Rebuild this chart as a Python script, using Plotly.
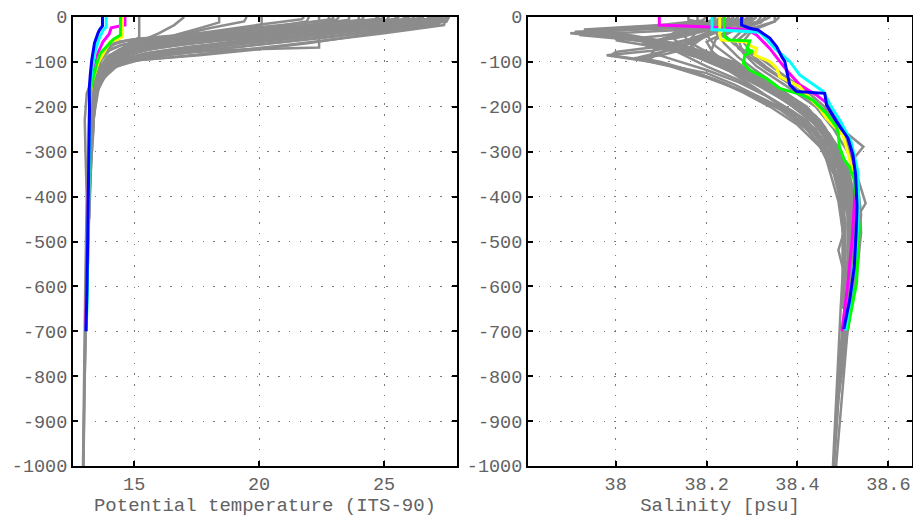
import plotly.graph_objects as go

# ---------------- DATA ----------------
y_ticks = [0, -100, -200, -300, -400, -500, -600, -700, -800, -900, -1000]
y_tick_labels = ["0", "-100", "-200", "-300", "-400", "-500", "-600", "-700", "-800", "-900", "-1000"]
temp_ticks = [15, 20, 25]
temp_tick_labels = ["15", "20", "25"]
sal_ticks = [38.0, 38.2, 38.4, 38.6]
sal_tick_labels = ["38", "38.2", "38.4", "38.6"]

# Gray profiles, potential temperature panel (depth m, temperature)
temp_gray_depth = [
    [0, -5, -15, -25, -35, -45, -55, -62, -75, -95, -130, -180, -300, -500, -700, -1000],
    [0, -8, -20, -35, -50, -65, -80, -92, -110, -140, -200, -400, -700, -1000],
    [0, -12, -25, -40, -55, -70, -85, -97, -115, -150, -220, -500, -800],
    [0, -6, -18, -30, -42, -54, -66, -80, -100, -140, -250, -600],
    [0, -10, -22, -38, -52, -66, -80, -92, -105, -125, -170, -300, -700],
    [0, -5, -12, -22, -32, -44, -55, -65, -85, -120, -200],
    [0, -4, -16, -30, -45, -60, -75, -90, -110, -150, -250, -500],
    [0, -10, -14, -28, -44, -60, -76, -90, -110, -160, -400],
    [0, -7, -18, -32, -48, -64, -78, -100, -135, -300],
    [0, -6, -12, -24, -38, -52, -66, -85, -110, -170, -400],
    [0, -5, -10, -22, -36, -50, -64, -80, -100, -140, -300],
    [0, -30, -68, -72, -78, -88, -98, -115, -150, -250, -500],
    [0, -20, -28, -40, -55, -70, -85, -105, -140, -220],
    [0, -12, -22, -35, -50, -65, -85, -110, -150, -300],
    [0, -4, -18, -36, -50, -65, -80, -100, -140, -250],
    [0, -45, -52, -62, -78, -95, -120, -160, -300],
    [0, -5, -15, -28, -42, -56, -70, -82, -100, -130, -180],
    [0, -8, -18, -30, -45, -58, -72, -86, -104, -124, -150, -200, -350],
    [0, -6, -20, -34, -48, -62, -76, -90, -115, -160, -260],
    [0, -5, -18, -30, -44, -58, -72, -90, -120, -165],
    [0, -10, -25, -40, -55, -70, -88, -115, -160, -260],
    [0, -30, -38, -48, -60, -74, -90, -115, -150, -220],
    [0, -7, -14, -24, -36, -48, -58, -70, -90, -120],
    [0, -3, -10, -20, -30, -40, -48, -54, -62, -80, -110, -160, -250],
    [0, -6, -16, -28, -40, -52, -62, -72, -85, -105],
    [0, -5, -20, -40, -60, -80, -100, -130, -170, -230, -300, -400, -600, -800, -1000],
    [0, -8, -25, -45, -65, -85, -110, -150, -200, -250, -320, -450],
    [0, -15, -30, -45, -58, -73, -85, -96, -110, -135, -180, -300],
    [0, -18, -36, -50, -62, -75, -88, -99, -122, -150, -200],
    [0, -10, -25, -40, -55, -65, -78, -90, -100, -120, -160, -260],
    [0, -14, -30, -45, -58, -70, -82, -94, -108, -130, -175],
    [0, -8, -22, -38, -52, -66, -78, -90, -104, -128, -170, -280],
    [0, -12, -28, -44, -60, -74, -88, -100, -116, -145],
    [0, -6, -20, -36, -52, -68, -84, -98, -120, -160],
    [0, -3, -10, -18, -26, -34, -42, -48, -55, -70, -95, -140],
    [0, -4, -12, -20, -28, -36, -44, -50, -58, -75, -100],
    [0, -16, -32, -48, -62, -76, -88, -98, -112, -140, -190],
    [0, -20, -35, -50, -64, -78, -90, -100, -118, -150],
    [0, -5, -14, -26, -40, -55, -70, -84, -100, -125, -170],
    [0, -10, -20, -32, -46, -60, -74, -88, -104, -130],
    [0, -8, -18, -30, -42, -54, -66, -78, -92, -115, -150],
    [0, -6, -15, -26, -38, -50, -62, -74, -88, -110],
]
temp_gray_value = [
    [27.6, 27.5, 25.0, 22.3, 19.8, 17.4, 15.4, 14.5, 14.0, 13.7, 13.45, 13.3, 13.22, 13.14, 13.05, 12.96],
    [27.4, 27.3, 25.6, 23.2, 20.6, 18.0, 15.9, 14.9, 14.2, 13.65, 13.3, 13.18, 13.04, 12.97],
    [27.1, 26.9, 25.0, 22.3, 19.6, 17.4, 15.5, 14.6, 14.0, 13.55, 13.3, 13.14, 13.02],
    [26.8, 26.7, 24.5, 22.0, 19.6, 17.3, 15.5, 14.5, 13.95, 13.5, 13.28, 13.12],
    [26.4, 26.3, 24.8, 22.0, 19.4, 17.2, 15.5, 14.6, 14.1, 13.75, 13.4, 13.24, 13.05],
    [26.0, 25.9, 24.6, 22.6, 20.6, 18.2, 16.0, 14.8, 14.0, 13.6, 13.3],
    [25.6, 25.5, 23.8, 21.5, 18.8, 16.6, 15.2, 14.4, 13.9, 13.5, 13.28, 13.15],
    [24.7, 24.7, 24.0, 21.8, 19.0, 16.6, 15.0, 14.3, 13.85, 13.45, 13.2],
    [25.2, 25.1, 23.3, 20.9, 18.2, 16.0, 14.8, 14.0, 13.55, 13.25],
    [23.6, 23.6, 22.8, 21.0, 18.6, 16.4, 15.0, 14.2, 13.8, 13.4, 13.2],
    [23.0, 22.9, 22.2, 20.6, 18.4, 16.3, 14.9, 14.2, 13.8, 13.5, 13.25],
    [22.4, 22.4, 22.4, 19.5, 17.4, 15.8, 14.9, 14.1, 13.6, 13.3, 13.16],
    [20.1, 20.1, 19.3, 18.0, 16.6, 15.4, 14.6, 13.95, 13.55, 13.3],
    [18.4, 18.4, 17.8, 17.0, 16.0, 15.2, 14.4, 13.85, 13.5, 13.25],
    [17.0, 16.9, 16.6, 16.0, 15.4, 14.8, 14.3, 13.9, 13.5, 13.28],
    [15.2, 15.2, 15.0, 14.7, 14.3, 13.9, 13.6, 13.4, 13.25],
    [27.0, 26.9, 24.8, 22.2, 19.4, 16.9, 15.2, 14.4, 13.9, 13.6, 13.35],
    [26.2, 26.1, 24.6, 22.3, 19.6, 17.4, 15.6, 14.6, 14.15, 13.8, 13.55, 13.3, 13.2],
    [24.2, 24.1, 22.0, 19.8, 17.6, 15.9, 14.9, 14.2, 13.75, 13.4, 13.25],
    [21.8, 21.7, 19.9, 18.3, 16.6, 15.2, 14.4, 13.9, 13.55, 13.33],
    [19.5, 19.4, 18.0, 16.8, 15.7, 14.9, 14.2, 13.7, 13.36, 13.22],
    [22.8, 22.7, 21.0, 19.0, 17.0, 15.4, 14.5, 13.9, 13.5, 13.3],
    [25.5, 25.4, 24.2, 22.3, 20.0, 17.6, 15.8, 14.8, 14.1, 13.7],
    [26.6, 26.5, 24.6, 22.2, 19.6, 17.2, 15.4, 14.6, 14.1, 13.75, 13.5, 13.3, 13.2],
    [23.2, 23.1, 21.2, 19.0, 17.0, 15.4, 14.5, 14.0, 13.7, 13.5],
    [26.9, 26.8, 23.6, 19.8, 16.5, 14.6, 13.9, 13.4, 13.1, 13.02, 13.05, 13.1, 13.04, 12.99, 12.95],
    [25.9, 25.8, 22.6, 19.0, 16.2, 14.6, 13.95, 13.5, 13.35, 13.37, 13.28, 13.2],
    [27.3, 27.2, 25.4, 23.6, 22.0, 19.8, 17.6, 15.2, 14.3, 13.8, 13.4, 13.22],
    [27.5, 27.4, 25.0, 23.0, 21.2, 19.0, 16.8, 14.6, 13.8, 13.45, 13.3],
    [27.6, 27.5, 25.6, 23.4, 21.0, 19.4, 17.2, 15.4, 14.5, 13.9, 13.45, 13.25],
    [27.2, 27.1, 25.0, 22.8, 20.6, 18.6, 16.6, 15.0, 14.3, 13.8, 13.4],
    [26.5, 26.4, 24.8, 22.3, 20.2, 18.0, 16.2, 15.0, 14.3, 13.8, 13.4, 13.25],
    [25.8, 25.7, 23.8, 21.6, 19.2, 17.0, 15.3, 14.4, 13.9, 13.55],
    [27.0, 26.9, 24.6, 22.0, 19.4, 17.2, 15.4, 14.4, 13.85, 13.45],
    [27.3, 27.2, 25.6, 23.6, 21.6, 19.4, 17.2, 15.4, 14.4, 13.9, 13.6, 13.4],
    [25.0, 24.9, 23.2, 21.4, 19.4, 17.6, 16.0, 14.9, 14.2, 13.8, 13.55],
    [26.0, 25.9, 23.8, 21.4, 19.0, 17.0, 15.6, 14.7, 14.1, 13.7, 13.35],
    [24.0, 23.9, 22.2, 20.3, 18.3, 16.4, 15.1, 14.4, 13.9, 13.5],
    [24.8, 24.7, 23.4, 21.6, 19.4, 17.2, 15.6, 14.6, 14.0, 13.65, 13.4],
    [22.0, 21.9, 20.8, 19.2, 17.6, 16.0, 14.9, 14.3, 13.85, 13.55],
    [27.5, 27.4, 25.2, 22.8, 20.4, 18.2, 16.2, 15.0, 14.3, 13.8, 13.45],
    [26.2, 26.1, 24.4, 22.4, 20.2, 18.0, 16.0, 14.8, 14.1, 13.7],
]

# Gray profiles, salinity panel (depth m, salinity psu)
sal_gray_depth = [
    [0, -10, -22, -33, -45, -60, -80, -100, -130, -160, -200, -250, -300, -400, -500, -600, -700, -850, -1000],
    [0, -8, -20, -36, -48, -62, -85, -110, -140, -180, -230, -300, -400, -500, -600, -700, -1000],
    [0, -12, -25, -40, -55, -70, -90, -120, -150, -200, -260, -320, -420, -550, -700, -850],
    [0, -10, -30, -45, -58, -70, -90, -115, -150, -200, -260, -330, -420, -520, -620, -700],
    [0, -15, -40, -58, -68, -80, -100, -130, -170, -220, -290, -380, -480, -600, -700],
    [0, -10, -35, -60, -75, -85, -100, -125, -150, -185, -220, -270, -330, -420, -520, -650],
    [0, -10, -40, -70, -85, -92, -110, -135, -165, -200, -250, -310, -380, -480, -600],
    [0, -15, -50, -80, -95, -122, -148, -185, -210, -260, -305, -356, -410, -480, -560, -650, -750, -850, -1000],
    [0, -5, -20, -40, -60, -85, -110, -140, -175, -215, -260, -289, -320, -380, -450, -550, -700, -1000],
    [0, -10, -25, -50, -80, -110, -150, -200, -250, -300, -350, -415, -440, -500, -600, -700],
    [0, -10, -30, -55, -90, -120, -160, -200, -240, -300, -380, -470, -519, -560, -650, -750, -900],
    [0, -8, -18, -28, -40, -55, -75, -100, -130, -165, -210, -260, -320, -400, -520, -650],
    [0, -10, -25, -45, -58, -66, -80, -105, -140, -180, -225, -280, -350, -450, -560, -680],
    [0, -6, -15, -35, -60, -90, -120, -150, -190, -240, -300, -360, -440, -540, -640],
    [0, -12, -30, -50, -75, -100, -125, -160, -200, -240, -290, -350, -430, -520, -620, -720],
    [0, -5, -15, -30, -50, -80, -110, -140, -180, -230, -290, -360, -450, -550, -650],
    [0, -10, -20, -30, -42, -55, -70, -90, -120, -150, -190, -235, -290, -360, -460, -570, -680, -800, -950],
    [0, -10, -30, -55, -80, -100, -130, -165, -200, -260, -320, -400, -480, -580, -700],
    [0, -8, -22, -40, -60, -90, -120, -160, -210, -270, -340, -420, -520, -620],
    [0, -10, -20, -30, -38, -48, -60, -75, -95, -120, -150, -190, -240, -300, -380, -480, -600],
    [0, -8, -18, -26, -34, -44, -58, -76, -98, -125, -160, -200, -250, -310, -400, -520],
    [0, -12, -28, -42, -52, -60, -72, -90, -115, -145, -185, -230, -290, -370, -470, -600],
    [0, -10, -30, -50, -65, -78, -85, -96, -115, -140, -170, -205, -250, -300, -370, -460, -580],
    [0, -12, -35, -60, -78, -90, -100, -118, -140, -168, -200, -240, -290, -350, -430, -540],
    [0, -10, -30, -55, -80, -105, -130, -160, -195, -235, -280, -340, -420, -520, -640],
    [0, -8, -20, -40, -65, -95, -125, -155, -190, -230, -280, -340, -420, -520],
    [0, -10, -22, -30, -40, -52, -66, -82, -100, -125, -155, -190, -230, -280, -340, -420],
    [0, -10, -30, -50, -66, -80, -96, -118, -145, -175, -210, -250, -300, -360, -440],
    [0, -6, -14, -24, -33, -42, -55, -72, -92, -118, -150, -185, -225, -270, -330],
    [0, -10, -25, -40, -55, -72, -90, -110, -135, -165, -200, -245, -300, -380, -480],
    [0, -10, -28, -48, -70, -92, -115, -140, -170, -205, -245, -290, -350, -440, -560, -700, -850],
]
sal_gray_value = [
    [38.30, 38.29, 38.20, 37.91, 38.05, 38.14, 38.20, 38.26, 38.31, 38.36, 38.42, 38.46, 38.49, 38.52, 38.52, 38.51, 38.50, 38.49, 38.48],
    [38.27, 38.26, 38.18, 37.90, 38.02, 38.10, 38.18, 38.24, 38.30, 38.37, 38.44, 38.48, 38.51, 38.525, 38.515, 38.50, 38.48],
    [38.32, 38.31, 38.22, 37.92, 38.08, 38.15, 38.21, 38.28, 38.34, 38.40, 38.46, 38.50, 38.53, 38.52, 38.505, 38.49],
    [38.25, 38.24, 38.18, 38.12, 38.06, 38.12, 38.18, 38.24, 38.32, 38.41, 38.47, 38.51, 38.53, 38.52, 38.51, 38.50],
    [38.22, 38.21, 38.16, 38.07, 38.10, 38.17, 38.24, 38.31, 38.37, 38.44, 38.49, 38.52, 38.525, 38.515, 38.505],
    [38.28, 38.27, 38.22, 38.16, 38.08, 37.98, 38.08, 38.20, 38.26, 38.33, 38.40, 38.45, 38.48, 38.50, 38.505, 38.50],
    [38.24, 38.23, 38.20, 38.16, 38.10, 38.04, 38.12, 38.20, 38.28, 38.36, 38.43, 38.47, 38.49, 38.50, 38.50],
    [38.26, 38.24, 38.18, 38.10, 38.07, 38.17, 38.24, 38.32, 38.38, 38.43, 38.46, 38.475, 38.49, 38.50, 38.50, 38.495, 38.49, 38.485, 38.478],
    [38.34, 38.33, 38.28, 38.24, 38.26, 38.30, 38.33, 38.37, 38.42, 38.47, 38.51, 38.545, 38.52, 38.53, 38.53, 38.525, 38.51, 38.485],
    [38.36, 38.35, 38.30, 38.27, 38.28, 38.31, 38.37, 38.44, 38.48, 38.51, 38.53, 38.55, 38.535, 38.535, 38.525, 38.51],
    [38.30, 38.30, 38.25, 38.20, 38.22, 38.27, 38.34, 38.40, 38.45, 38.48, 38.50, 38.505, 38.49, 38.50, 38.505, 38.495, 38.485],
    [38.20, 38.19, 38.10, 37.93, 38.00, 38.08, 38.15, 38.22, 38.29, 38.35, 38.42, 38.47, 38.50, 38.52, 38.52, 38.51],
    [38.30, 38.28, 38.22, 38.14, 38.06, 38.07, 38.15, 38.23, 38.31, 38.38, 38.44, 38.48, 38.51, 38.52, 38.52, 38.505],
    [38.16, 38.16, 38.20, 38.22, 38.24, 38.27, 38.31, 38.35, 38.40, 38.45, 38.48, 38.50, 38.51, 38.51, 38.50],
    [38.33, 38.32, 38.26, 38.22, 38.21, 38.24, 38.28, 38.33, 38.39, 38.44, 38.48, 38.51, 38.525, 38.53, 38.52, 38.505],
    [38.28, 38.28, 38.24, 38.15, 38.10, 38.14, 38.20, 38.27, 38.34, 38.42, 38.47, 38.50, 38.515, 38.515, 38.505],
    [38.25, 38.24, 38.10, 37.95, 38.04, 38.11, 38.17, 38.22, 38.27, 38.32, 38.38, 38.44, 38.48, 38.51, 38.52, 38.515, 38.50, 38.49, 38.482],
    [38.35, 38.35, 38.30, 38.28, 38.30, 38.33, 38.37, 38.42, 38.46, 38.50, 38.52, 38.535, 38.54, 38.53, 38.51],
    [38.22, 38.21, 38.15, 38.12, 38.14, 38.19, 38.25, 38.31, 38.38, 38.45, 38.49, 38.51, 38.515, 38.51],
    [38.26, 38.25, 38.15, 37.96, 37.93, 38.03, 38.10, 38.15, 38.20, 38.26, 38.32, 38.38, 38.44, 38.48, 38.51, 38.52, 38.51],
    [38.24, 38.23, 38.12, 37.98, 37.94, 38.04, 38.11, 38.17, 38.23, 38.29, 38.35, 38.41, 38.46, 38.49, 38.51, 38.515],
    [38.29, 38.28, 38.20, 38.10, 38.00, 38.05, 38.12, 38.18, 38.24, 38.30, 38.37, 38.43, 38.48, 38.51, 38.52, 38.51],
    [38.27, 38.26, 38.22, 38.17, 38.10, 38.00, 37.99, 38.06, 38.15, 38.22, 38.29, 38.36, 38.42, 38.46, 38.49, 38.505, 38.50],
    [38.25, 38.24, 38.20, 38.15, 38.10, 38.05, 38.10, 38.16, 38.22, 38.28, 38.34, 38.40, 38.45, 38.48, 38.50, 38.50],
    [38.23, 38.22, 38.18, 38.16, 38.18, 38.22, 38.27, 38.33, 38.39, 38.44, 38.47, 38.49, 38.50, 38.505, 38.50],
    [38.31, 38.30, 38.25, 38.20, 38.22, 38.26, 38.30, 38.35, 38.40, 38.45, 38.48, 38.51, 38.52, 38.52],
    [38.22, 38.21, 38.12, 38.00, 37.97, 38.06, 38.13, 38.18, 38.22, 38.27, 38.32, 38.38, 38.43, 38.47, 38.49, 38.51],
    [38.28, 38.27, 38.22, 38.16, 38.09, 38.08, 38.13, 38.20, 38.27, 38.33, 38.39, 38.44, 38.47, 38.49, 38.51],
    [38.30, 38.29, 38.20, 38.05, 37.95, 38.02, 38.10, 38.16, 38.22, 38.28, 38.34, 38.39, 38.44, 38.47, 38.50],
    [38.18, 38.18, 38.16, 38.15, 38.16, 38.19, 38.23, 38.27, 38.31, 38.36, 38.42, 38.46, 38.49, 38.51, 38.52],
    [38.33, 38.32, 38.28, 38.26, 38.27, 38.30, 38.33, 38.37, 38.41, 38.45, 38.49, 38.515, 38.53, 38.54, 38.53, 38.51, 38.49],
]

# Highlighted casts (drawn on top, in this order)
color_names = ["magenta", "yellow", "green", "cyan", "blue"]
color_values = ["#ff00ff", "#ffff00", "#00ff00", "#00ffff", "#0000ff"]

temp_color_depth = [
    [0, -18, -24, -38, -55, -80, -111, -140, -165, -210, -300, -400, -500, -600, -700],
    [0, -44, -51, -55, -100, -151, -200, -270, -345],
    [0, -40, -50, -81, -100, -130, -160, -200, -300, -400, -500, -600, -700],
    [0, -22, -30, -50, -80, -120, -160, -210, -300, -400, -500, -600, -700],
    [0, -20, -28, -36, -58, -96, -130, -159, -207, -300, -408, -490, -601, -700],
]
temp_color_value = [
    [14.63, 14.63, 14.08, 14.0, 13.75, 13.55, 13.44, 13.3, 13.22, 13.2, 13.18, 13.16, 13.13, 13.1, 13.06],
    [14.53, 14.53, 14.28, 14.03, 13.57, 13.28, 13.2, 13.2, 13.19],
    [14.45, 14.45, 14.16, 13.64, 13.52, 13.4, 13.25, 13.22, 13.2, 13.18, 13.15, 13.12, 13.08],
    [13.88, 13.88, 13.75, 13.58, 13.42, 13.3, 13.22, 13.22, 13.2, 13.18, 13.16, 13.12, 13.08],
    [13.73, 13.73, 13.62, 13.55, 13.41, 13.3, 13.24, 13.2, 13.21, 13.19, 13.17, 13.15, 13.11, 13.07],
]

sal_color_depth = [
    [0, -18, -22, -29, -40, -55, -70, -99, -122, -151, -174, -196, -233, -278, -345, -420, -500, -600, -700],
    [0, -40, -51, -55, -66, -70, -85, -92, -99, -114, -133, -144, -155, -181, -203, -226, -248, -263, -292, -322, -345],
    [0, -44, -51, -53, -73, -76, -85, -103, -118, -137, -159, -174, -185, -214, -244, -259, -289, -318, -333, -363, -467, -593, -697],
    [0, -28, -34, -47, -70, -99, -129, -151, -166, -196, -233, -278, -345, -420, -500, -600, -698],
    [0, -18, -25, -29, -47, -66, -88, -99, -133, -151, -166, -170, -196, -233, -270, -307, -352, -422, -482, -556, -630, -695],
]
sal_color_value = [
    [38.096, 38.096, 38.207, 38.29, 38.31, 38.325, 38.339, 38.361, 38.379, 38.405, 38.442, 38.47, 38.493, 38.515, 38.528, 38.525, 38.52, 38.51, 38.498],
    [38.229, 38.229, 38.232, 38.286, 38.30, 38.31, 38.306, 38.324, 38.339, 38.354, 38.361, 38.383, 38.405, 38.427, 38.449, 38.464, 38.486, 38.50, 38.508, 38.515, 38.522],
    [38.239, 38.239, 38.25, 38.295, 38.288, 38.302, 38.284, 38.281, 38.295, 38.332, 38.361, 38.412, 38.434, 38.463, 38.485, 38.49, 38.492, 38.503, 38.514, 38.525, 38.536, 38.53, 38.51],
    [38.212, 38.212, 38.317, 38.33, 38.35, 38.383, 38.405, 38.435, 38.457, 38.472, 38.495, 38.518, 38.533, 38.535, 38.53, 38.52, 38.506],
    [38.277, 38.277, 38.295, 38.313, 38.339, 38.354, 38.365, 38.372, 38.379, 38.383, 38.398, 38.46, 38.464, 38.486, 38.511, 38.522, 38.528, 38.531, 38.529, 38.525, 38.515, 38.502],
]

temp_title = "Potential temperature (ITS-90)"
sal_title = "Salinity [psu]"

# ---------------- FIGURE ----------------
GRAY = "#8c8c8c"
FONT = "Liberation Mono, Courier New, monospace"
TXT = "#626262"

fig = go.Figure()

for d, v in zip(temp_gray_depth, temp_gray_value):
    fig.add_trace(go.Scatter(x=v, y=d, mode="lines", line=dict(color=GRAY, width=2.5),
                             xaxis="x", yaxis="y", hoverinfo="skip", showlegend=False))
for d, v in zip(sal_gray_depth, sal_gray_value):
    fig.add_trace(go.Scatter(x=v, y=d, mode="lines", line=dict(color=GRAY, width=2.5),
                             xaxis="x2", yaxis="y2", hoverinfo="skip", showlegend=False))
for name, c, d, v in zip(color_names, color_values, temp_color_depth, temp_color_value):
    fig.add_trace(go.Scatter(x=v, y=d, mode="lines", name=name, line=dict(color=c, width=3),
                             xaxis="x", yaxis="y", showlegend=False))
for name, c, d, v in zip(color_names, color_values, sal_color_depth, sal_color_value):
    fig.add_trace(go.Scatter(x=v, y=d, mode="lines", name=name, line=dict(color=c, width=3),
                             xaxis="x2", yaxis="y2", showlegend=False))

W, H = 913, 517
ydom = [51 / H, 500 / H]

common = dict(showline=True, linecolor="black", linewidth=2, mirror="ticks",
              ticks="inside", ticklen=5, tickwidth=1.5, tickcolor="black",
              showgrid=True, gridcolor="#7a7a7a", gridwidth=1.3, griddash="1.3px,9.5px",
              zeroline=False, automargin=False,
              tickfont=dict(family=FONT, size=18.5, color=TXT))

fig.update_layout(
    width=W, height=H, margin=dict(l=0, r=0, t=0, b=0),
    paper_bgcolor="white", plot_bgcolor="white", showlegend=False,
    xaxis=dict(domain=[73 / W, 457 / W], range=[12.55, 27.92], anchor="y",
               tickvals=temp_ticks, ticktext=temp_tick_labels, ticklabelstandoff=0,
               title=dict(text=temp_title, font=dict(family=FONT, size=19, color=TXT), standoff=9),
               **common),
    yaxis=dict(domain=ydom, range=[-1000, 0], anchor="x",
               tickvals=y_ticks, ticktext=y_tick_labels, ticklabelstandoff=0, **common),
    xaxis2=dict(domain=[528 / W, 912 / W], range=[37.807, 38.652], anchor="y2",
                tickvals=sal_ticks, ticktext=sal_tick_labels, ticklabelstandoff=0,
                title=dict(text=sal_title, font=dict(family=FONT, size=19, color=TXT), standoff=9),
                **common),
    yaxis2=dict(domain=ydom, range=[-1000, 0], anchor="x2",
                tickvals=y_ticks, ticktext=y_tick_labels, ticklabelstandoff=0, **common),
)

fig.write_html("out.html")
